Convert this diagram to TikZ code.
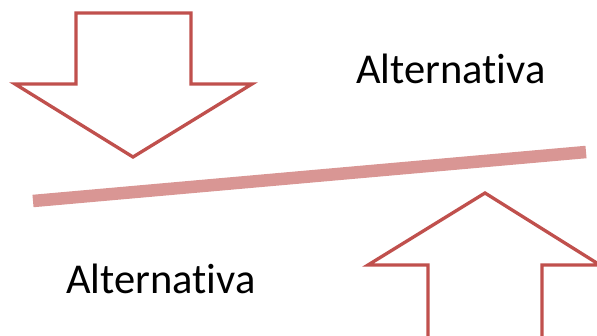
\documentclass[tikz,border=0pt]{standalone}
\usepackage{fontspec}
\setmainfont[RawFeature=-liga]{Carlito}
\definecolor{arrowred}{RGB}{192,80,77}
\definecolor{barpink}{RGB}{217,150,148}
\tikzset{
  arrowshape/.style={draw=arrowred, line width=3.3pt, line join=miter, fill=white},
  barline/.style={draw=barpink, line width=12.5pt},
  label/.style={font=\fontsize{42.5}{50}\selectfont, text=black, inner sep=0pt, anchor=base west}
}
\begin{document}
\begin{tikzpicture}[x=1pt,y=-1pt]
\useasboundingbox (0,0) rectangle (597,335);
\begin{scope}
\clip (0,0) rectangle (597,335);
% down arrow
\draw[arrowshape] (76,13) -- (191,13) -- (191,84) -- (252,84) -- (133,157) -- (15,84) -- (76,84) -- cycle;
% bar
\coordinate (b1) at (33,201);
\coordinate (b2) at (586,152);
\draw[barline] (b1) -- (b2);
% up arrow
\draw[arrowshape] (428,350) -- (428,265) -- (368,265) -- (485,193) -- (600,265) -- (542,265) -- (542,350) -- cycle;
\end{scope}
\node[label] (t1) at (356,83) {Alternativa};
\node[label] (t2) at (66,293) {Alternativa};
\end{tikzpicture}
\end{document}
